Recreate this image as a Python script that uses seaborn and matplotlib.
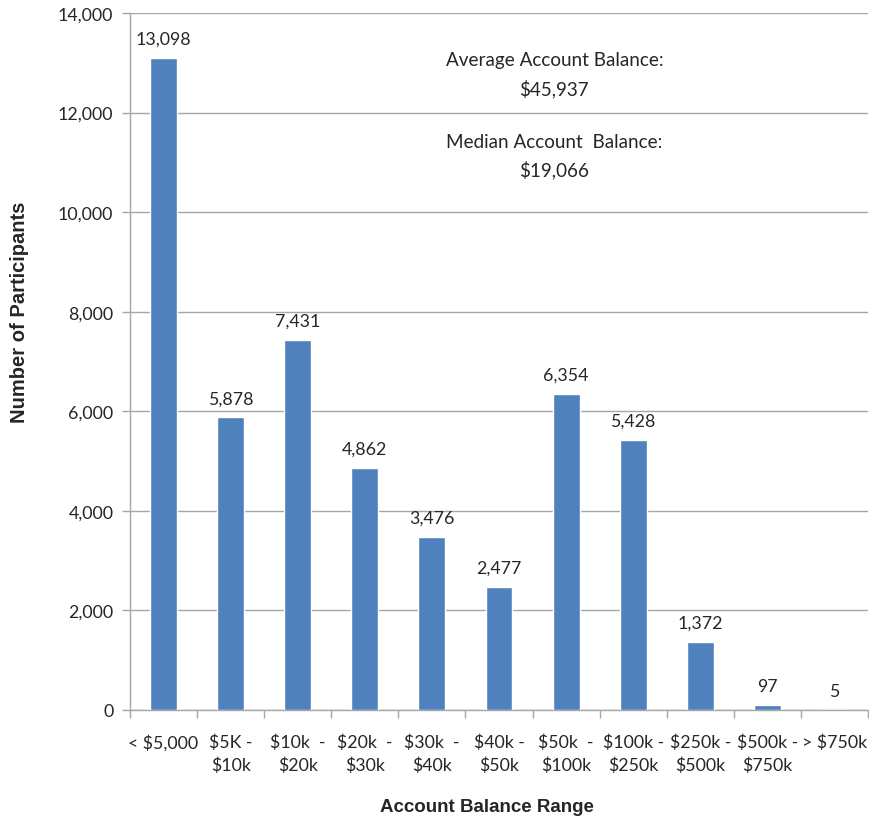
import matplotlib
matplotlib.use("Agg")
import matplotlib.pyplot as plt
import seaborn as sns
import pandas as pd
import numpy as np

categories = ["< $5,000", "$5K -\n$10k", "$10k  -\n$20k", "$20k  -\n$30k", "$30k  -\n$40k",
              "$40k -\n$50k", "$50k  -\n$100k", "$100k -\n$250k", "$250k -\n$500k",
              "$500k -\n$750k", "> $750k"]
participants = [13098, 5878, 7431, 4862, 3476, 2477, 6354, 5428, 1372, 97, 5]
yticks = [0, 2000, 4000, 6000, 8000, 10000, 12000, 14000]

sns.set_theme(style="white")
plt.rcParams['font.family'] = ['Lato', 'DejaVu Sans']

df = pd.DataFrame({"cat": categories, "n": participants})

fig = plt.figure(figsize=(8.7, 8.2), dpi=100)
ax = fig.add_axes([130/870, 1-711/820, (868-130)/870, (711-14)/820])
sns.barplot(data=df, x="cat", y="n", color="#4F81BD", saturation=1, width=0.4, ax=ax, zorder=3)

ax.set_ylim(0, 14000)
ax.set_xlim(-0.5, len(categories)-0.5)
ax.set_yticks(yticks)
ax.set_yticklabels([f"{v:,}" for v in yticks], fontsize=12.8)
ax.yaxis.grid(True, color="#A6A6A6", linewidth=1, zorder=0)
ax.tick_params(axis="y", direction="out", length=6, width=1, color="#A6A6A6", pad=6, left=True)

ax.set_xticks(range(len(categories)))
ax.set_xticklabels(categories, fontsize=12.8, linespacing=1.5)
ax.tick_params(axis="x", which="major", length=0, pad=17)
ax.set_xticks(np.arange(-0.5, len(categories)), minor=True)
ax.tick_params(axis="x", which="minor", direction="out", length=6, width=1, color="#A6A6A6", bottom=True)

ax.spines["top"].set_visible(False)
ax.spines["right"].set_visible(False)
for s in ["left", "bottom"]:
    ax.spines[s].set_color("#A6A6A6")
    ax.spines[s].set_linewidth(1)

for i, v in enumerate(participants):
    ax.text(i, v + 220, f"{v:,}", ha="center", va="bottom", fontsize=12.8)

ax.text(0.575, 0.9125, "Average Account Balance:\n$45,937", transform=ax.transAxes,
        ha="center", va="center", fontsize=13.6, linespacing=1.65)
ax.text(0.575, 0.795, "Median Account  Balance:\n$19,066", transform=ax.transAxes,
        ha="center", va="center", fontsize=13.6, linespacing=1.65)

ax.set_xlabel("")
ax.set_ylabel("")
fig.text(487/870, 1-808/820, "Account Balance Range", ha="center", va="center",
         fontsize=13.5, fontweight="bold", family=["Liberation Sans", "DejaVu Sans"])
fig.text(20/870, 1-312/820, "Number of Participants", ha="center", va="center", rotation=90,
         fontsize=14.5, fontweight="bold", family=["Liberation Sans", "DejaVu Sans"])

fig.savefig("out.png", dpi=100)
